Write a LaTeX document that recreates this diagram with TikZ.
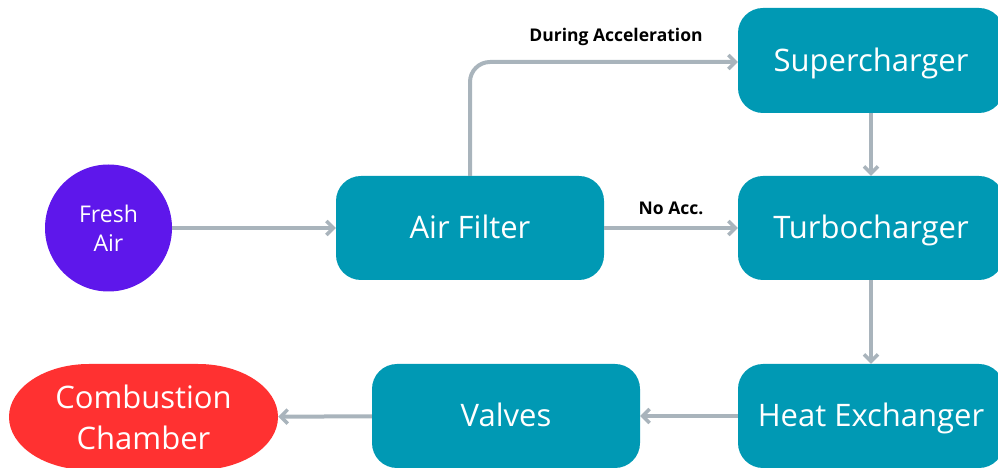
\documentclass[tikz,border=0pt]{standalone}
\usepackage{fontspec}
\setmainfont{Open Sans}
\usetikzlibrary{arrows.meta}
\definecolor{tealbox}{HTML}{0099B4}
\definecolor{purplec}{HTML}{5E17EB}
\definecolor{redc}{HTML}{FF3131}
\definecolor{arrowc}{HTML}{A9B4BC}
\begin{document}
\begin{tikzpicture}[x=1pt,y=1pt,
  box/.style={rectangle, rounded corners=25pt, fill=tealbox, text=white,
    minimum height=104pt, inner sep=0pt, text height=22pt, text depth=0pt,
    font=\fontsize{31}{36}\selectfont},
  flow/.style={draw=arrowc, line width=4pt,
    -{Straight Barb[length=7pt,width=14pt,line width=3.5pt]}},
  lbl/.style={font=\bfseries\fontsize{17.5}{20}\selectfont, text=black}]
\useasboundingbox (0,0) rectangle (998,468);
% nodes
\node[circle, fill=purplec, minimum size=127pt, inner sep=0pt, text=white,
  align=center, font=\fontsize{23}{29}\selectfont] (fresh) at (108.5,240) {Fresh\\Air};
\node[box, minimum width=268pt] (filter) at (470,240) {Air Filter};
\node[box, minimum width=266pt, minimum height=105pt] (super) at (871,407.5) {Supercharger};
\node[box, minimum width=266pt] (turbo) at (871,240) {Turbocharger};
\node[box, minimum width=266pt] (heat) at (871,52) {Heat Exchanger};
\node[box, minimum width=268pt] (valves) at (506,52) {Valves};
% combustion chamber (oval)
\fill[redc] (89,104) -- (198,104)
  arc[start angle=90, end angle=-90, x radius=80, y radius=53]
  -- (89,-2) arc[start angle=270, end angle=90, x radius=80, y radius=53] -- cycle;
\node[text=white, align=center, inner sep=0pt, minimum width=269pt, minimum height=106pt,
  font=\fontsize{31}{41}\selectfont] (comb) at (143.5,51) {Combustion\\Chamber};
% connectors
\draw[flow] (fresh) -- (filter);
\draw[flow] (filter) -- node[lbl, above=8pt] {No Acc.} (turbo);
\coordinate (bend) at (filter.north |- super.west);
\draw[flow, rounded corners=20pt] (filter.north) -- ([yshift=-1.5pt]bend) -- ([yshift=-1.5pt]super.west);
\node[lbl] (during) at (616,431) {During Acceleration};
\draw[flow] (super) -- (turbo);
\draw[flow] (turbo) -- (heat);
\draw[flow] (heat) -- (valves);
\draw[flow] (valves) -- (comb);
\end{tikzpicture}
\end{document}
